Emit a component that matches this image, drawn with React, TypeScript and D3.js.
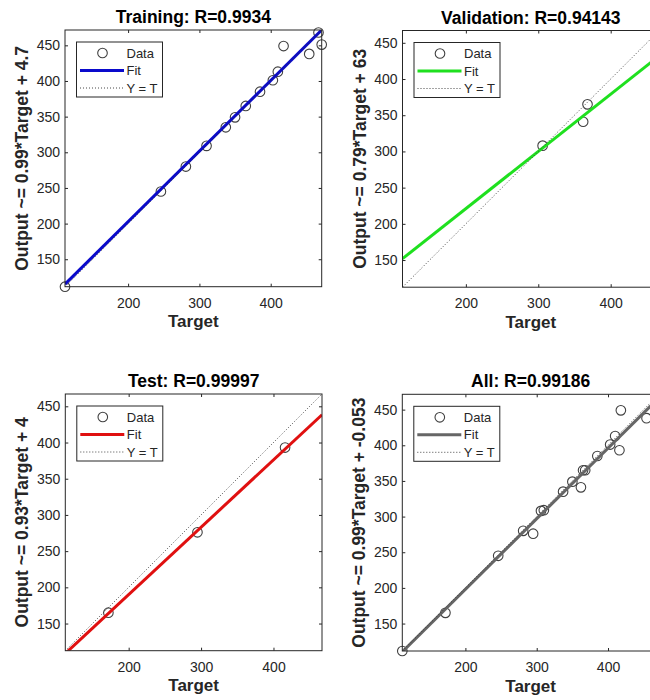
import React, { useRef, useEffect } from 'react'
import * as d3 from 'd3'

// targets / outputs
const trainTarget = [111.5, 246, 281, 310, 337, 350, 365, 385, 403, 410, 418, 454, 467, 471.5]
const trainOutput = [111.5, 245, 280, 309, 335, 349, 365, 385, 401, 413, 449, 438, 468, 451]
const valTarget = [306, 362, 368]
const valOutput = [308, 341, 365]
const testTarget = [172, 295, 416]
const testOutput = [165, 276, 393]

const panelNames = ['Training', 'Validation', 'Test', 'All']
const rValues = ['0.9934', '0.94143', '0.99997', '0.99186']
const fitSlopes = [0.99, 0.79, 0.93, 0.99]
const fitOffsets = [4.7, 63, 4, -0.053]
const axisLimits = [[111.5, 471.5], [112.5, 467], [112.5, 467], [111.5, 471.5]]
const xTicks = [200, 300, 400]
const yTicks = [150, 200, 250, 300, 350, 400, 450]
const legendLabels = ['Data', 'Fit', 'Y = T']

// layout
const boxes = [
  { x: 65, y: 30 },
  { x: 402.5, y: 30.5 },
  { x: 65.3, y: 394 },
  { x: 402.3, y: 394.3 }
]
const size = 256.7
const fitColors = ['#0a0acc', '#1fe01f', '#e01010', '#666666']
const ink = '#262626'
const font = 'Arial, "Liberation Sans", Helvetica, sans-serif'

function App() {
  const svgRef = useRef<SVGSVGElement>(null)

  useEffect(() => {
    drawChart()
  }, [])

  const drawChart = () => {
    const svg = d3.select(svgRef.current)
    svg.selectAll('*').remove()

    const allTarget = [...trainTarget, ...valTarget, ...testTarget]
    const allOutput = [...trainOutput, ...valOutput, ...testOutput]
    const sets = [
      [trainTarget, trainOutput],
      [valTarget, valOutput],
      [testTarget, testOutput],
      [allTarget, allOutput]
    ]

    panelNames.forEach((name, i) => {
      const box = boxes[i]
      const [lo, hi] = axisLimits[i]
      const x = d3.scaleLinear().domain([lo, hi]).range([box.x, box.x + size])
      const y = d3.scaleLinear().domain([lo, hi]).range([box.y + size, box.y])
      const g = svg.append('g')

      const clipId = `clip-${i}`
      g.append('clipPath')
        .attr('id', clipId)
        .append('rect')
        .attr('x', box.x)
        .attr('y', box.y)
        .attr('width', size)
        .attr('height', size)

      // axes with inward ticks
      const styleAxis = (a: any) => {
        a.select('.domain').remove()
        a.selectAll('line').attr('stroke', ink)
        a.selectAll('text')
          .attr('fill', ink)
          .style('font-family', font)
          .style('font-size', '14px')
      }
      g.append('g')
        .attr('transform', `translate(0, ${box.y + size})`)
        .call(d3.axisBottom(x).tickValues(xTicks).tickSizeInner(-3).tickSizeOuter(0).tickPadding(11))
        .call(styleAxis)
      g.append('g')
        .attr('transform', `translate(${box.x}, 0)`)
        .call(d3.axisLeft(y).tickValues(yTicks).tickSizeInner(-3).tickSizeOuter(0).tickPadding(5))
        .call(styleAxis)
      g.append('g')
        .attr('transform', `translate(0, ${box.y})`)
        .call(d3.axisTop(x).tickValues(xTicks).tickSizeInner(-3).tickSizeOuter(0).tickFormat(() => ''))
        .call(styleAxis)
      g.append('g')
        .attr('transform', `translate(${box.x + size}, 0)`)
        .call(d3.axisRight(y).tickValues(yTicks).tickSizeInner(-3).tickSizeOuter(0).tickFormat(() => ''))
        .call(styleAxis)

      // data circles
      const [targets, outputs] = sets[i]
      g.selectAll('circle.pt')
        .data(targets.map((t, k) => ({ t, o: outputs[k] })))
        .join('circle')
        .attr('class', 'pt')
        .attr('cx', d => x(d.t))
        .attr('cy', d => y(d.o))
        .attr('r', 4.8)
        .attr('fill', 'none')
        .attr('stroke', '#404040')
        .attr('stroke-width', 1.1)

      // fit line
      const line = d3.line<number>().x(t => x(t)).y(t => y(fitSlopes[i] * t + fitOffsets[i]))
      g.append('path')
        .attr('d', line([lo, hi]))
        .attr('clip-path', `url(#${clipId})`)
        .attr('stroke', fitColors[i])
        .attr('stroke-width', 3)
        .attr('fill', 'none')

      // Y = T
      g.append('path')
        .attr('d', d3.line<number>().x(t => x(t)).y(t => y(t))([lo, hi]))
        .attr('clip-path', `url(#${clipId})`)
        .attr('stroke', '#333')
        .attr('stroke-width', 0.9)
        .attr('stroke-dasharray', '1,2')
        .attr('fill', 'none')

      // frame
      g.append('rect')
        .attr('x', box.x)
        .attr('y', box.y)
        .attr('width', size)
        .attr('height', size)
        .attr('fill', 'none')
        .attr('stroke', ink)
        .attr('stroke-width', 1)

      // title and labels
      g.append('text')
        .attr('x', box.x + size / 2)
        .attr('y', box.y - 7)
        .attr('text-anchor', 'middle')
        .style('font-family', font)
        .style('font-size', '17.5px')
        .style('font-weight', 'bold')
        .attr('fill', '#000')
        .text(`${name}: R=${rValues[i]}`)

      g.append('text')
        .attr('x', box.x + size / 2)
        .attr('y', box.y + size + 40.5)
        .attr('text-anchor', 'middle')
        .style('font-family', font)
        .style('font-size', '17px')
        .style('font-weight', 'bold')
        .attr('fill', ink)
        .text('Target')

      g.append('text')
        .attr('transform', `translate(${box.x - 37}, ${box.y + size / 2}) rotate(-90)`)
        .attr('text-anchor', 'middle')
        .style('font-family', font)
        .style('font-size', '17.5px')
        .style('font-weight', 'bold')
        .attr('fill', ink)
        .text(`Output ~= ${fitSlopes[i]}*Target + ${fitOffsets[i]}`)

      // legend
      const lg = g.append('g').attr('transform', `translate(${box.x + 11.5}, ${box.y + 12})`)
      lg.append('rect')
        .attr('width', 86)
        .attr('height', 55)
        .attr('fill', '#fff')
        .attr('stroke', ink)
        .attr('stroke-width', 1)
      const rows = [11, 28.5, 46]
      lg.append('circle')
        .attr('cx', 26)
        .attr('cy', rows[0])
        .attr('r', 4.8)
        .attr('fill', 'none')
        .attr('stroke', '#404040')
        .attr('stroke-width', 1.1)
      lg.append('line')
        .attr('x1', 3.5).attr('x2', 47.5)
        .attr('y1', rows[1]).attr('y2', rows[1])
        .attr('stroke', fitColors[i])
        .attr('stroke-width', 3)
      lg.append('line')
        .attr('x1', 3.5).attr('x2', 47.5)
        .attr('y1', rows[2]).attr('y2', rows[2])
        .attr('stroke', '#333')
        .attr('stroke-width', 0.9)
        .attr('stroke-dasharray', '1,2')
      lg.selectAll('text.lbl')
        .data(legendLabels)
        .join('text')
        .attr('class', 'lbl')
        .attr('x', 50)
        .attr('y', (d, k) => rows[k])
        .attr('dy', '0.35em')
        .style('font-family', font)
        .style('font-size', '13px')
        .attr('fill', ink)
        .text(d => d)
    })
  }

  return (
    <svg
      ref={svgRef}
      width={650}
      height={700}
      style={{ position: 'absolute', left: 0, top: 0, background: '#fff' }}
    />
  )
}

export default App
